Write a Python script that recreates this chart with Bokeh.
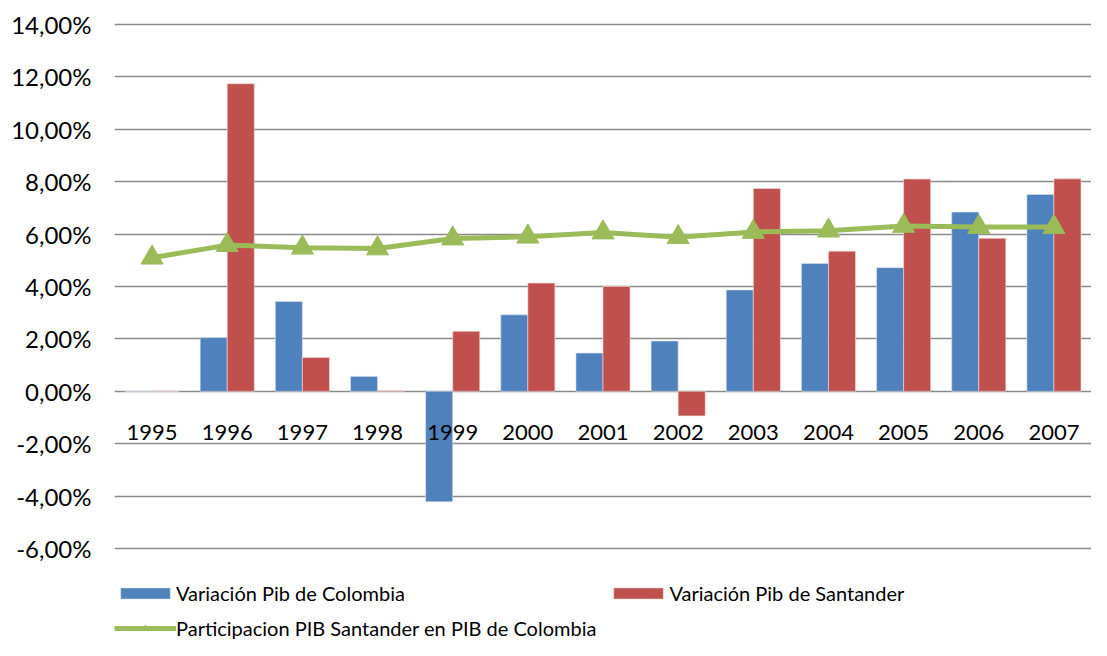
from bokeh.plotting import figure
from bokeh.models import (ColumnDataSource, FactorRange, Range1d, Legend, LegendItem,
                          CustomJSTickFormatter, FixedTicker)
from bokeh.transform import dodge
from bokeh.embed import file_html
from bokeh.resources import INLINE

years = ["1995", "1996", "1997", "1998", "1999", "2000", "2001",
         "2002", "2003", "2004", "2005", "2006", "2007"]
var_colombia = [0.0, 2.05, 3.43, 0.57, -4.22, 2.92, 1.46, 1.92, 3.87, 4.88, 4.72, 6.84, 7.51]
var_santander = [0.0, 11.74, 1.29, 0.02, 2.29, 4.13, 4.00, -0.94, 7.74, 5.35, 8.10, 5.84, 8.11]
participacion = [5.10, 5.58, 5.48, 5.45, 5.83, 5.90, 6.06, 5.88, 6.08, 6.13, 6.31, 6.27, 6.27]
y_ticks = [-6, -4, -2, 0, 2, 4, 6, 8, 10, 12, 14]

BLUE = "#4F81BD"
RED = "#C0504D"
GREEN = "#9BBB59"
FONT = "Lato"

src = ColumnDataSource(dict(year=years, col=var_colombia, san=var_santander, part=participacion))

# frame: top at 22px, bottom at figure bottom (legend lives in the lower, gridless strip)
p = figure(x_range=FactorRange(*years, range_padding=0), y_range=Range1d(-9.511, 14.076),
           width=1091, height=640, output_backend="svg", toolbar_location=None,
           min_border_left=114, min_border_right=0, min_border_top=22,
           min_border_bottom=0)
p.outline_line_color = None
p.background_fill_color = "white"
p.border_fill_color = "white"

b1 = p.vbar(x=dodge("year", -0.18, range=p.x_range), top="col", bottom=0, width=0.36,
            source=src, fill_color=BLUE, line_color="#dce6f2", line_width=0.6)
b2 = p.vbar(x=dodge("year", 0.18, range=p.x_range), top="san", bottom=0, width=0.36,
            source=src, fill_color=RED, line_color="#f2dcdb", line_width=0.6)
ln = p.line(x="year", y="part", source=src, line_color=GREEN, line_width=5)
mk = p.scatter(x="year", y="part", source=src, marker="triangle", size=22,
               fill_color=GREEN, line_color=GREEN)

# y axis
p.yaxis.ticker = FixedTicker(ticks=y_ticks)
p.yaxis.formatter = CustomJSTickFormatter(code="return tick.toFixed(2).replace('.', ',') + '%';")
p.yaxis.axis_line_color = None
p.yaxis.major_tick_line_color = None
p.yaxis.minor_tick_line_color = None
p.yaxis.major_label_text_font = FONT
p.yaxis.major_label_text_font_size = "24px"
p.yaxis.major_label_text_color = "black"
p.yaxis.major_label_standoff = 17

p.ygrid.ticker = FixedTicker(ticks=y_ticks)
p.ygrid.grid_line_color = "#8a8a8a"
p.ygrid.grid_line_width = 1.5
p.xgrid.grid_line_color = None

# x axis at zero
p.xaxis.fixed_location = 0
p.xaxis.axis_line_color = None
p.xaxis.major_tick_line_color = None
p.xaxis.minor_tick_line_color = None
p.xaxis.major_label_text_font = FONT
p.xaxis.major_label_text_font_size = "22px"
p.xaxis.major_label_text_color = "black"
p.xaxis.major_label_standoff = 28

legend = Legend(items=[
    LegendItem(label="Variación Pib de Colombia", renderers=[b1]),
    LegendItem(label="Participacion PIB Santander en PIB de Colombia", renderers=[ln, mk]),
    LegendItem(label="Variación Pib de Santander", renderers=[b2]),
], ncols=2, location=(0, 0), glyph_width=62, glyph_height=14, label_standoff=0,
    label_width=370, label_text_font=FONT, label_text_font_size="20px",
    label_text_color="black", border_line_color=None, background_fill_alpha=0,
    spacing=11, padding=3, margin=0)
p.add_layout(legend, "center")

open("out.html", "w").write(file_html(p, INLINE))
